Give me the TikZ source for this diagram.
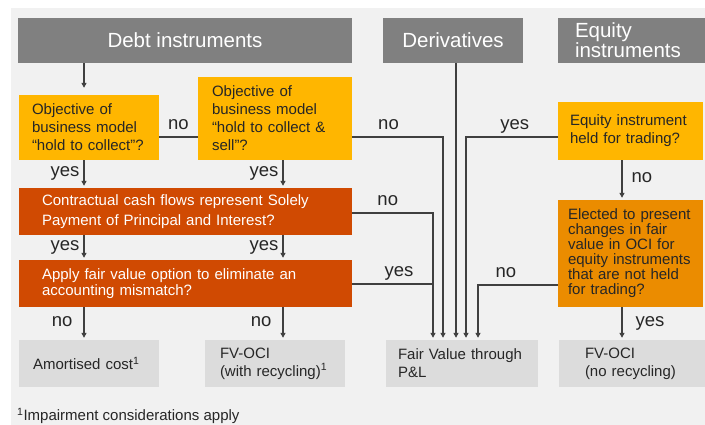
\documentclass[tikz,border=0pt]{standalone}
\usepackage{fontspec}
\setmainfont{Liberation Sans}
\usetikzlibrary{arrows.meta}

\definecolor{hdrgray}{HTML}{808080}
\definecolor{pwcyellow}{HTML}{FFB600}
\definecolor{pwcorange}{HTML}{EB8C00}
\definecolor{pwcred}{HTML}{D04A02}
\definecolor{resgray}{HTML}{DCDCDC}
\definecolor{bggray}{HTML}{F1F1F1}
\definecolor{linegray}{HTML}{404040}
\definecolor{txtdark}{HTML}{262626}

\tikzset{
  hdr/.style = {fill = hdrgray, text = white, inner sep = 0pt, font = \fontsize{20.5}{20}\selectfont},
  ask/.style = {inner ysep = 0pt, align = left, text = txtdark, font = \fontsize{15}{18}\selectfont},
  res/.style = {fill = resgray, inner ysep = 0pt, align = left, text = txtdark, minimum height = 47pt, font = \fontsize{15}{18}\selectfont},
  con/.style = {draw = linegray, line width = 1.2pt},
  arr/.style = {con, -{Triangle[width = 5pt, length = 5pt]}, shorten > = 2pt},
  lbl/.style = {inner sep = 1pt, text height = 10pt, text depth = 4pt, text = txtdark, font = \fontsize{18.5}{18.5}\selectfont}
}

\begin{document}
\begin{tikzpicture}[x = 1pt, y = -1pt]

      \useasboundingbox (0, 0) rectangle (705, 425);
      \fill[white] (0, 0) rectangle (705, 425);
      \fill[bggray] (11, 8) rectangle (705, 425);

      \node[hdr, minimum width = 334pt, minimum height = 45pt] (debt) at (185, 40.5) {Debt instruments};
      \node[hdr, minimum width = 140pt, minimum height = 45pt] (deriv) at (453, 40.5) {Derivatives};
      \node[hdr, minimum height = 45pt, text width = 113pt, inner xsep = 17pt, align = left] (equity) at (631.5, 40.5) {Equity\\instruments};

      \node[ask, fill = pwcyellow, text width = 114pt, inner xsep = 13pt, minimum height = 65pt] (htc) at (89, 127.5)
        {Objective of\\business model\\“hold to collect”?};
      \node[ask, fill = pwcyellow, text width = 126pt, inner xsep = 14pt, minimum height = 83pt] (htcs) at (275, 118.5)
        {Objective of\\business model\\“hold to collect \&\\sell”?};
      \node[ask, fill = pwcred, text = white, text width = 287pt, inner xsep = 23pt, minimum height = 47pt, font = \fontsize{15}{20}\selectfont] (sppi) at (185.5, 211.5)
        {Contractual cash flows represent Solely\\Payment of Principal and Interest?};
      \node[ask, fill = pwcred, text = white, text width = 287pt, inner xsep = 23pt, minimum height = 47pt, font = \fontsize{15}{16}\selectfont] (fvo) at (185.5, 283.5)
        {Apply fair value option to eliminate an\\accounting mismatch?};
      \node[ask, fill = pwcyellow, text width = 121pt, inner xsep = 12pt, minimum height = 58pt] (eqtrade) at (630.5, 131)
        {Equity instrument\\held for trading?};
      \node[ask, fill = pwcorange, text width = 125pt, inner xsep = 10pt, minimum height = 107pt, font = \fontsize{15}{15}\selectfont] (eqoci) at (630.5, 253.5)
        {Elected to present\\changes in fair\\value in OCI for\\equity instruments\\that are not held\\for trading?};

      \node[res, text width = 112pt, inner xsep = 14pt] (amort) at (89, 363.5) {Amortised cost\textsuperscript{1}};
      \node[res, text width = 110pt, inner xsep = 15pt] (fvoci) at (275, 363.5) {FV-OCI\\(with recycling)\textsuperscript{1}};
      \node[res, text width = 128pt, inner xsep = 12pt] (fvpl) at (462, 363.5) {Fair Value through\\P\&L};
      \node[res, text width = 94pt, inner xsep = 26pt] (fvocinr) at (632, 363.5) {FV-OCI\\(no recycling)};

      \node[anchor = base west, inner sep = 0pt, text = txtdark, font = \fontsize{15}{18}\selectfont] (note) at (17, 420.5)
        {\textsuperscript{1}Impairment considerations apply};

      \coordinate (colA) at (84, 0);
      \coordinate (colB) at (283, 0);
      \coordinate (colE) at (622, 0);
      \coordinate (pl1) at (433, 0);
      \coordinate (pl2) at (443, 0);
      \coordinate (pl3) at (456, 0);
      \coordinate (pl4) at (466, 0);
      \coordinate (pl5) at (478, 0);
      \coordinate (rowA) at (0, 137);
      \coordinate (rowC) at (0, 213);
      \coordinate (rowD) at (0, 284);
      \coordinate (rowF) at (0, 285);

      \draw[arr, shorten > = 7pt] (colA |- debt.south) -- (colA |- htc.north);
      \draw[con] (htc.east |- rowA) -- node[lbl, above = 2pt] (noA) {no} (htcs.west |- rowA);
      \draw[arr] (htcs.east |- rowA) -| node[lbl, above = 2pt, pos = 0.2] (noB) {no} (pl2 |- fvpl.north);
      \draw[arr] (colA |- htc.south) -- node[lbl, left = 3pt] (yesA) {yes} (colA |- sppi.north);
      \draw[arr] (colB |- htcs.south) -- node[lbl, left = 3pt] (yesB) {yes} (colB |- sppi.north);
      \draw[arr] (sppi.east |- rowC) -| node[lbl, above = 2pt, pos = 0.22] (noC) {no} (pl1 |- fvpl.north);
      \draw[arr] (colA |- sppi.south) -- node[lbl, left = 3pt] (yesCA) {yes} (colA |- fvo.north);
      \draw[arr] (colB |- sppi.south) -- node[lbl, left = 3pt] (yesCB) {yes} (colB |- fvo.north);
      \draw[con] (fvo.east |- rowD) -- node[lbl, above = 2pt, pos = 0.58] (yesD) {yes} (pl1 |- rowD);
      \draw[arr] (colA |- fvo.south) -- node[lbl, left = 10pt] (noDA) {no} (colA |- amort.north);
      \draw[arr] (colB |- fvo.south) -- node[lbl, left = 10pt] (noDB) {no} (colB |- fvoci.north);
      \draw[arr] (pl3 |- deriv.south) -- (pl3 |- fvpl.north);
      \draw[arr] (eqtrade.west |- rowA) -| node[lbl, above = 2pt, pos = 0.234] (yesE) {yes} (pl4 |- fvpl.north);
      \draw[arr] (colE |- eqtrade.south) -- node[lbl, right = 8pt] (noE) {no} (colE |- eqoci.north);
      \draw[arr] (eqoci.west |- rowF) -| node[lbl, above = 2pt, pos = 0.325] (noF) {no} (pl5 |- fvpl.north);
      \draw[arr] (colE |- eqoci.south) -- node[lbl, right = 12pt] (yesF) {yes} (colE |- fvocinr.north);

    \end{tikzpicture}
\end{document}
